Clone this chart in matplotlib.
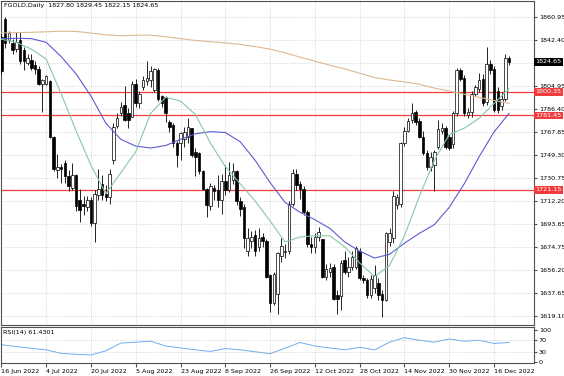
#!/usr/bin/python3
# -*- coding: utf-8 -*-

'''
FGOLD daily candles with moving averages and RSI
'''

import matplotlib
matplotlib.use('Agg')
import matplotlib.pyplot as plt

TITLE = 'FGOLD,Daily  1827.80 1829.45 1822.15 1824.65'
RSI_TITLE = 'RSI(14) 61.4301'

# daily bars, 16 Jun 2022 onwards
OPEN = [1845, 1859, 1842, 1840, 1835, 1842, 1834, 1824, 1826, 1822,
        1819, 1807, 1807, 1809, 1764, 1737, 1740, 1743, 1732, 1723,
        1733, 1713, 1710, 1707, 1713, 1694, 1717, 1726, 1718, 1715,
        1745, 1773, 1783, 1790, 1783, 1780, 1807, 1791, 1804, 1809,
        1810, 1802, 1818, 1797, 1796, 1776, 1774, 1759, 1759, 1762,
        1764, 1771, 1752, 1751, 1736, 1722, 1708, 1723, 1721, 1713,
        1728, 1721, 1729, 1736, 1712, 1707, 1672, 1680, 1685, 1675,
        1683, 1680, 1652, 1630, 1637, 1668, 1671, 1672, 1710, 1734,
        1726, 1722, 1703, 1677, 1675, 1683, 1681, 1651, 1655, 1659,
        1636, 1635, 1664, 1655, 1659, 1659, 1672, 1650, 1648, 1636,
        1642, 1646, 1637, 1632, 1679, 1682, 1709, 1710, 1759, 1769,
        1778, 1784, 1777, 1764, 1751, 1740, 1741, 1756, 1769, 1771,
        1764, 1758, 1783, 1818, 1812, 1782, 1784, 1799, 1803, 1811,
        1792, 1823, 1819, 1801, 1789, 1795, 1827.80]
HIGH = [1848, 1861, 1850, 1843, 1849, 1849, 1837, 1831, 1831, 1825,
        1821, 1811, 1814, 1810, 1765, 1750, 1742, 1745, 1737, 1743,
        1734, 1722, 1716, 1716, 1715, 1721, 1738, 1733, 1725, 1738,
        1775, 1783, 1792, 1805, 1787, 1809, 1811, 1801, 1813, 1825,
        1821, 1820, 1820, 1798, 1797, 1778, 1775, 1761, 1768, 1772,
        1779, 1771, 1755, 1752, 1737, 1723, 1727, 1725, 1733, 1734,
        1741, 1744, 1743, 1737, 1715, 1710, 1690, 1688, 1689, 1690,
        1686, 1681, 1653, 1655, 1671, 1682, 1677, 1712, 1738, 1738,
        1728, 1724, 1705, 1683, 1686, 1691, 1681, 1661, 1662, 1661,
        1640, 1664, 1672, 1667, 1672, 1676, 1674, 1652, 1650, 1652,
        1660, 1650, 1640, 1687, 1690, 1720, 1718, 1760, 1772, 1779,
        1791, 1786, 1779, 1769, 1753, 1752, 1753, 1778, 1775, 1773,
        1766, 1785, 1820, 1820, 1814, 1787, 1801, 1806, 1816, 1815,
        1837, 1826, 1821, 1804, 1800, 1831, 1829.45]
LOW = [1815, 1836, 1840, 1831, 1833, 1823, 1818, 1822, 1818, 1815,
       1806, 1784, 1806, 1763, 1736, 1731, 1727, 1727, 1720, 1721,
       1704, 1695, 1701, 1704, 1692, 1679, 1713, 1713, 1712, 1710,
       1742, 1771, 1781, 1777, 1771, 1780, 1788, 1787, 1802, 1806,
       1804, 1800, 1793, 1788, 1776, 1768, 1756, 1740, 1745, 1756,
       1759, 1748, 1732, 1734, 1721, 1699, 1705, 1713, 1707, 1702,
       1717, 1719, 1726, 1709, 1700, 1674, 1668, 1674, 1668, 1672,
       1675, 1650, 1622, 1628, 1621, 1663, 1666, 1669, 1708, 1721,
       1714, 1701, 1675, 1670, 1670, 1680, 1650, 1648, 1651, 1632,
       1621, 1624, 1653, 1651, 1656, 1657, 1648, 1646, 1634, 1634,
       1638, 1632, 1618, 1631, 1676, 1678, 1706, 1707, 1757, 1768,
       1775, 1774, 1763, 1749, 1737, 1736, 1720, 1754, 1766, 1754,
       1753, 1755, 1781, 1809, 1781, 1779, 1780, 1797, 1800, 1789,
       1790, 1815, 1784, 1783, 1786, 1793, 1822.15]
CLOSE = [1817, 1840, 1848, 1834, 1841, 1825, 1825, 1828, 1820, 1819,
         1807, 1810, 1813, 1764, 1738, 1740, 1738, 1732, 1724, 1733,
         1708, 1705, 1708, 1713, 1694, 1718, 1722, 1717, 1715, 1734,
         1772, 1779, 1788, 1778, 1778, 1807, 1791, 1799, 1810, 1812,
         1817, 1819, 1795, 1791, 1783, 1772, 1759, 1749, 1767, 1768,
         1772, 1749, 1748, 1736, 1722, 1709, 1724, 1720, 1713, 1728,
         1721, 1733, 1736, 1712, 1706, 1682, 1682, 1683, 1672, 1682,
         1680, 1651, 1630, 1653, 1670, 1676, 1672, 1710, 1735, 1725,
         1722, 1703, 1677, 1675, 1683, 1687, 1651, 1657, 1658, 1633,
         1633, 1662, 1655, 1659, 1667, 1674, 1650, 1648, 1636, 1649,
         1652, 1636, 1632, 1686, 1686, 1716, 1715, 1759, 1769, 1777,
         1783, 1776, 1764, 1751, 1740, 1748, 1752, 1770, 1771, 1756,
         1755, 1783, 1818, 1811, 1783, 1784, 1799, 1804, 1810, 1791,
         1823, 1818, 1786, 1786, 1795, 1828, 1824.65]

# indicator readings, one every 4th bar
MA_SLOW = [1848.0, 1848.3, 1848.6, 1849.0, 1849.5, 1849.3, 1848.0, 1846.5,
           1845.8, 1846.2, 1846.3, 1845.0, 1843.5, 1842.0, 1841.0, 1840.0,
           1838.8, 1837.0, 1835.0, 1832.0, 1828.5, 1825.2, 1822.0, 1819.0,
           1815.5, 1812.0, 1810.0, 1808.5, 1806.5, 1803.5, 1801.0, 1798.5,
           1796.0, 1793.5, 1791.0]
MA_MID = [1843.5, 1843.7, 1843.5, 1840.5, 1829.0, 1815.0, 1797.0, 1775.0,
          1762.0, 1756.5, 1755.0, 1757.0, 1762.0, 1766.5, 1768.2, 1767.5,
          1760.0, 1745.0, 1727.0, 1711.0, 1703.0, 1697.0, 1690.0, 1679.0,
          1671.5, 1666.0, 1669.0, 1678.0, 1686.0, 1693.0, 1707.0, 1726.0,
          1748.0, 1768.0, 1783.0]
MA_FAST = [1843.0, 1840.5, 1835.0, 1827.0, 1799.0, 1769.0, 1741.0, 1718.0,
           1735.0, 1752.0, 1783.0, 1796.0, 1793.0, 1782.0, 1759.0, 1740.0,
           1726.0, 1712.0, 1696.0, 1679.0, 1683.0, 1684.0, 1684.0, 1675.0,
           1662.0, 1651.0, 1660.0, 1684.0, 1716.0, 1745.0, 1766.0, 1771.0,
           1779.0, 1791.0, 1803.0]
RSI = [54, 48, 43, 38, 27, 24, 22, 35, 59, 62, 65, 50, 44, 38, 33, 42, 38,
       32, 26, 43, 61, 50, 44, 38, 46, 38, 62, 76, 68, 62, 72, 65, 68, 58, 61]

LEVELS = [1800.35, 1781.45, 1721.15]
LAST_PRICE = 1824.65

PRICE_TICKS = [1860.95, 1842.40, 1823.65, 1804.95, 1786.40, 1767.85, 1749.30,
               1730.75, 1712.20, 1693.65, 1674.75, 1656.20, 1637.65, 1619.10]
PRICE_LABELS = ['1860.95', '1842.40', '', '1804.95', '1786.40', '1767.85',
                '1749.30', '1730.75', '1712.20', '1693.65', '1674.75',
                '1656.20', '1637.65', '1619.10']
RSI_TICKS = [100, 70, 30, 0]
DATE_LABELS = ['16 Jun 2022', '4 Jul 2022', '20 Jul 2022', '5 Aug 2022',
               '23 Aug 2022', '8 Sep 2022', '26 Sep 2022', '12 Oct 2022',
               '28 Oct 2022', '14 Nov 2022', '30 Nov 2022', '16 Dec 2022']

FS = 4.6
GRID = dict(linestyle=(0, (1, 2)), color='#b8b8b8', linewidth=0.5)


def draw_candles(ax):
    '''
    Candles: white body up, black body down
    '''
    x = list(range(len(CLOSE)))
    ax.vlines(x, LOW, HIGH, color='black', linewidth=0.6, zorder=3)
    bottoms = [min(o, c) for o, c in zip(OPEN, CLOSE)]
    heights = [max(abs(c - o), 0.4) for o, c in zip(OPEN, CLOSE)]
    colors = ['white' if c >= o else 'black' for o, c in zip(OPEN, CLOSE)]
    ax.bar(x, heights, bottom=bottoms, width=0.68, color=colors,
           edgecolor='black', linewidth=0.5, zorder=4)


def style_axes(ax):
    for side in ax.spines.values():
        side.set_color('#505050')
        side.set_linewidth(0.8)
    ax.yaxis.tick_right()
    ax.tick_params(axis='both', length=2, pad=1.5, labelsize=FS,
                   color='#505050')


def main():
    '''
    Main function
    '''
    fig = plt.figure(figsize=(5.64, 3.76), dpi=100)
    ax = fig.add_axes([0.0018, 0.1356, 0.945, 0.8617])
    rsi_ax = fig.add_axes([0.0018, 0.0346, 0.945, 0.0957], sharex=ax)

    n = len(CLOSE)
    dates = list(range(0, n, 12))[:len(DATE_LABELS)]
    sparse = list(range(0, n, 4))

    # price panel
    draw_candles(ax)
    ax.plot(sparse, MA_SLOW, color='#dcb894', linewidth=0.8, zorder=5)
    ax.plot(sparse, MA_MID, color='#5c5cd0', linewidth=0.8, zorder=5)
    ax.plot(sparse, MA_FAST, color='#86c8a6', linewidth=0.8, zorder=5)
    for level in LEVELS:
        ax.axhline(level, color='#f03c3c', linewidth=0.9, zorder=2)
    style_axes(ax)
    ax.set_xlim(-0.1, 142.7)
    ax.set_ylim(1611.8, 1873.9)
    ax.set_yticks(PRICE_TICKS, PRICE_LABELS)
    ax.set_xticks(dates)
    ax.tick_params(axis='x', labelbottom=False, length=0)
    ax.grid(True, **GRID)
    ax.set_axisbelow(True)
    ax.text(0.006, 0.994, TITLE, transform=ax.transAxes, va='top',
            fontsize=FS)

    ytrans = ax.get_yaxis_transform()
    ax.text(1.003, LAST_PRICE, '1824.65', transform=ytrans, color='white',
            fontsize=FS, ha='left', va='center', clip_on=False, zorder=10,
            bbox=dict(boxstyle='square,pad=0.2', fc='black', ec='none'))
    for level in LEVELS:
        ax.text(1.003, level, '%.2f' % level, transform=ytrans,
                color='white', fontsize=FS, ha='left', va='center',
                clip_on=False, zorder=10,
                bbox=dict(boxstyle='square,pad=0.2', fc='#f03c3c', ec='none'))

    # rsi panel
    rsi_ax.plot(sparse, RSI, color='#6aaef0', linewidth=0.7)
    for level in (70, 30):
        rsi_ax.axhline(level, **GRID)
    style_axes(rsi_ax)
    rsi_ax.set_ylim(-3.1, 109.4)
    rsi_ax.set_yticks(RSI_TICKS, [str(t) for t in RSI_TICKS])
    rsi_ax.set_xticks(dates, DATE_LABELS, ha='left')
    rsi_ax.tick_params(axis='x', length=3, pad=1)
    rsi_ax.grid(True, axis='x', **GRID)
    rsi_ax.text(0.004, 0.93, RSI_TITLE, transform=rsi_ax.transAxes,
                va='top', fontsize=FS)

    fig.savefig('out.png', dpi=100)


if __name__ == '__main__':
    main()
